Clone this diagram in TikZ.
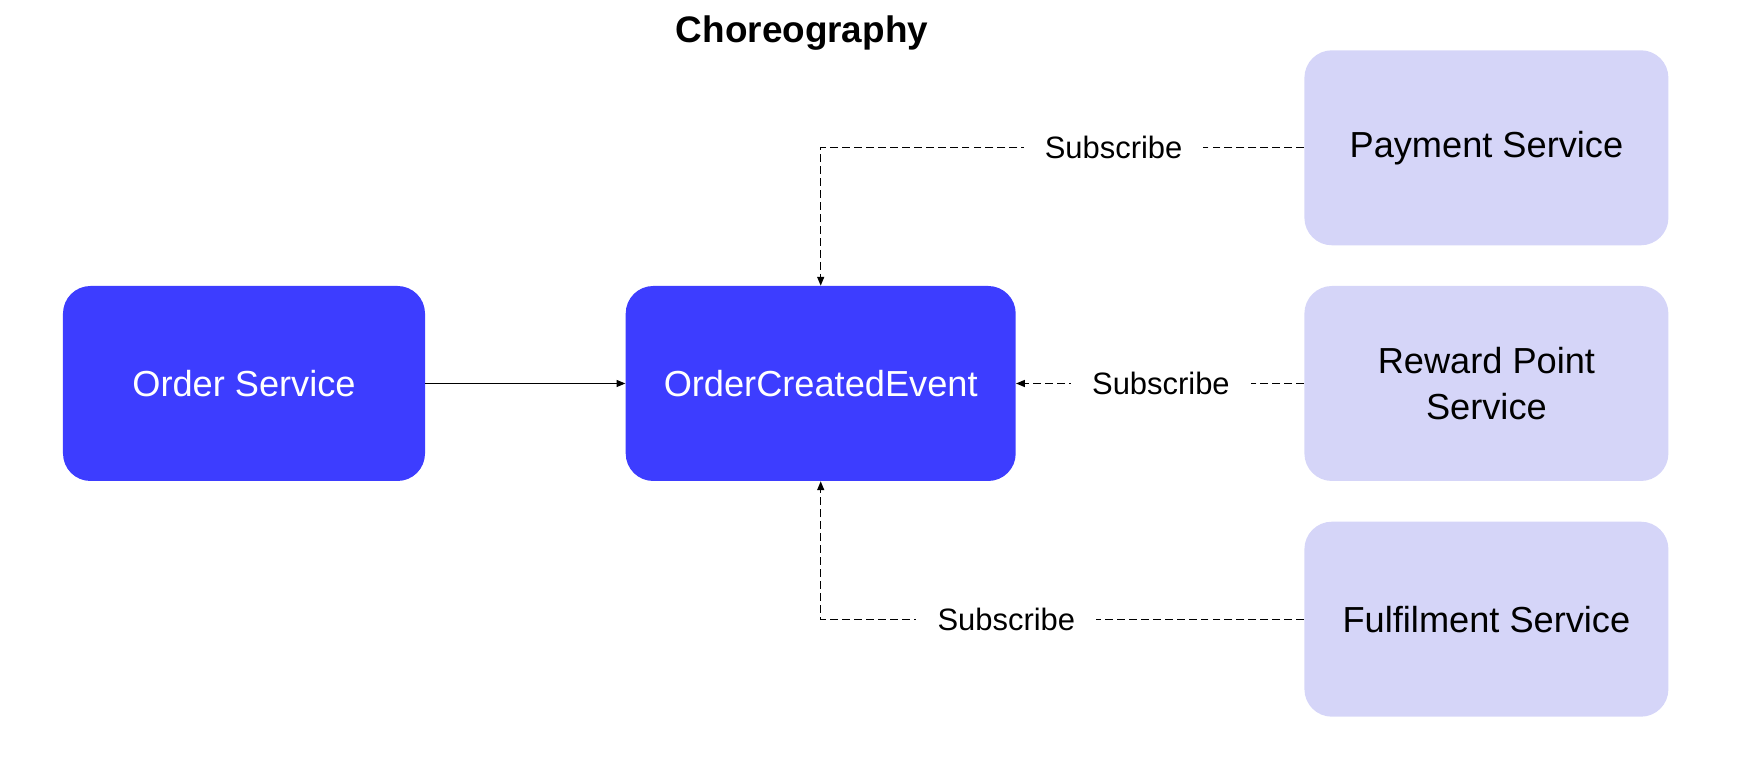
\documentclass[tikz,border=0pt]{standalone}
\usepackage{fontspec}
\setmainfont{Liberation Sans}
\usetikzlibrary{arrows.meta, positioning}
\definecolor{evblue}{RGB}{61,61,255}
\definecolor{svclav}{RGB}{213,213,248}
\tikzset{
    base/.style = {
        rectangle, rounded corners=0.55cm, inner sep=0pt, align=center,
        minimum height=3.9cm, font=\fontsize{20.6}{25.8}\selectfont
    },
    % Components
    producer/.style = {base, fill=evblue, text=white, minimum width=7.24cm},
    event/.style    = {base, fill=evblue, text=white, minimum width=7.8cm},
    service/.style  = {base, fill=svclav, text=black, minimum width=7.28cm},
    heading/.style  = {font=\bfseries\fontsize{21}{25}\selectfont},
    % Edges and annotations
    arrow/.style = {line width=0.6pt, -{Triangle[length=5pt, width=4pt]}},
    dashed_arrow/.style = {arrow, dash pattern=on 4.5pt off 2.3pt},
    annotation/.style = {font=\fontsize{17.6}{20}\selectfont, fill=white, inner xsep=12pt, inner ysep=2pt}
}

\begin{document}
\begin{tikzpicture}[node distance=0.8cm and 4cm]
    \useasboundingbox (-4.88,-7.87) rectangle (29.96,7.67);

    % Producer and event
    \node (order) [producer] {Order Service};
    \node (event) [event, right=4cm of order] {OrderCreatedEvent};

    % Subscribing services on the right
    \node (reward) [service, right=5.76cm of event] {Reward Point\\Service};
    \node (payment) [service, above=of reward] {Payment Service};
    \node (fulfil) [service, below=of reward] {Fulfilment Service};

    \node (title) [heading] at (11.16,7.0) {Choreography};

    \draw [arrow] (order) -- (event);
    \draw [dashed_arrow] (payment.west) -| node[annotation, pos=0.197] {Subscribe} (event.north);
    \draw [dashed_arrow] (reward.west) -- node[annotation, pos=0.497] {Subscribe} (event.east);
    \draw [dashed_arrow] (fulfil.west) -| node[annotation, pos=0.308] {Subscribe} (event.south);
\end{tikzpicture}
\end{document}
